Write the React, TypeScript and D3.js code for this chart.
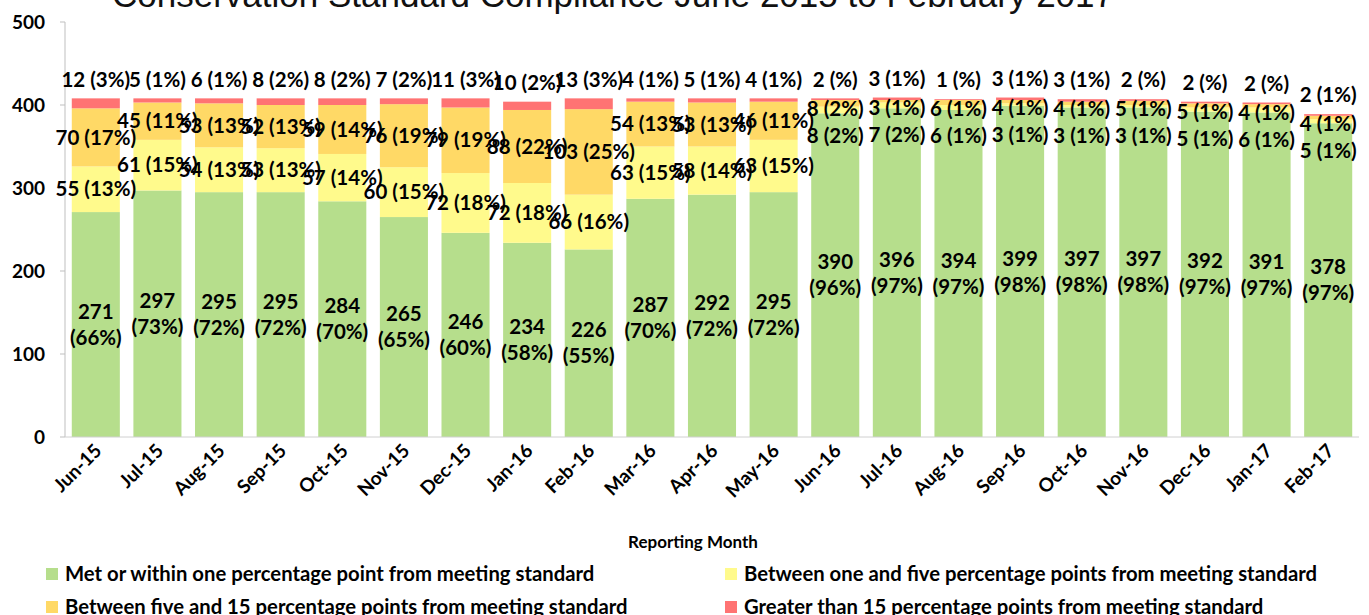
import * as d3 from "d3";

const months = [
  "Jun-15", "Jul-15", "Aug-15", "Sep-15", "Oct-15", "Nov-15", "Dec-15",
  "Jan-16", "Feb-16", "Mar-16", "Apr-16", "May-16", "Jun-16", "Jul-16",
  "Aug-16", "Sep-16", "Oct-16", "Nov-16", "Dec-16", "Jan-17", "Feb-17",
];

// suppliers per compliance group, by reporting month
const metStandard = [271, 297, 295, 295, 284, 265, 246, 234, 226, 287, 292, 295, 390, 396, 394, 399, 397, 397, 392, 391, 378];
const oneToFive = [55, 61, 54, 53, 57, 60, 72, 72, 66, 63, 58, 63, 8, 7, 6, 3, 3, 3, 5, 6, 5];
const fiveToFifteen = [70, 45, 53, 52, 59, 76, 79, 88, 103, 54, 53, 46, 8, 3, 6, 4, 4, 5, 5, 4, 4];
const overFifteen = [12, 5, 6, 8, 8, 7, 11, 10, 13, 4, 5, 4, 2, 3, 1, 3, 3, 2, 2, 2, 2];

const yTicks = [0, 100, 200, 300, 400, 500];

const seriesNames = [
  "Met or within one percentage point from meeting standard",
  "Between one and five percentage points from meeting standard",
  "Between five and 15 percentage points from meeting standard",
  "Greater than 15 percentage points from meeting standard",
];
const colors = ["#b6de8c", "#fffa8c", "#ffd966", "#ff7373"];

const W = 1369;
const H = 615;
const FONT = "Lato, 'Open Sans', sans-serif";

export default function App() {
  const x = d3
    .scaleBand<string>()
    .domain(months)
    .range([65, 1359])
    .paddingInner(0.22)
    .paddingOuter(0.11);
  const y = d3.scaleLinear().domain([0, 500]).range([437, 22]);

  const rows = months.map((m, i) => ({
    month: m,
    s0: metStandard[i],
    s1: oneToFive[i],
    s2: fiveToFifteen[i],
    s3: overFifteen[i],
  }));
  const stack = d3.stack<any>().keys(["s0", "s1", "s2", "s3"]);
  const layers = stack(rows);

  const pctText = (v: number, total: number) => {
    const p = Math.round((v / total) * 100);
    return `${v} (${p === 0 ? "" : p}%)`;
  };

  // label layout: green two-line in the middle, red above bar, others pushed down if crowded
  const labels: { x: number; y: number; text: string }[] = [];
  const greenLabels: { x: number; y: number; a: string; b: string }[] = [];
  rows.forEach((r, i) => {
    const total = r.s0 + r.s1 + r.s2 + r.s3;
    const cx = x(r.month)! + x.bandwidth() / 2;
    const top = y(total);
    const redY = top - 19;
    const orangeMid = y(r.s0 + r.s1 + r.s2 / 2);
    const orangeY = Math.max(orangeMid, redY + 29);
    const yellowMid = y(r.s0 + r.s1 / 2);
    const yellowY = Math.max(yellowMid, orangeY + 27);
    labels.push({ x: cx, y: redY, text: pctText(r.s3, total) });
    labels.push({ x: cx, y: orangeY, text: pctText(r.s2, total) });
    labels.push({ x: cx, y: yellowY, text: pctText(r.s1, total) });
    greenLabels.push({
      x: cx,
      y: y(r.s0 / 2),
      a: `${r.s0}`,
      b: `(${Math.round((r.s0 / total) * 100)}%)`,
    });
  });

  const legendPos = [
    [46, 568],
    [725, 568],
    [46, 601],
    [725, 601],
  ];

  return (
    <svg
      width={W}
      height={H}
      style={{ position: "absolute", left: 0, top: 0, background: "#fff" }}
      fontFamily={FONT}
    >
      <text
        x={112}
        y={7}
        fontFamily="'Liberation Sans', Arial, sans-serif"
        fontSize={35}
        fill="#111"
      >
        Conservation Standard Compliance June 2015 to February 2017
      </text>

      {/* bars */}
      {layers.map((layer, li) => (
        <g key={li} fill={colors[li]}>
          {layer.map((d, i) => (
            <rect
              key={i}
              x={x(months[i])}
              y={y(d[1])}
              width={x.bandwidth()}
              height={y(d[0]) - y(d[1])}
            />
          ))}
        </g>
      ))}

      {/* axes */}
      <line x1={65} x2={65} y1={y(500)} y2={y(0)} stroke="#bfbfbf" />
      <line x1={65} x2={1359} y1={y(0)} y2={y(0)} stroke="#d0d0d0" />
      {yTicks.map((t) => (
        <g key={t}>
          <line x1={60} x2={65} y1={y(t)} y2={y(t)} stroke="#bfbfbf" />
          <text
            x={45}
            y={y(t)}
            dy="0.35em"
            textAnchor="end"
            fontSize={19}
            fontWeight="bold"
          >
            {t}
          </text>
        </g>
      ))}
      {months.map((m) => (
        <text
          key={m}
          transform={`translate(${x(m)! + x.bandwidth() / 2 + 7},${y(0) + 15}) rotate(-45)`}
          textAnchor="end"
          fontSize={19}
          fontWeight="bold"
        >
          {m}
        </text>
      ))}
      <text x={693} y={548} textAnchor="middle" fontSize={17} fontWeight="bold">
        Reporting Month
      </text>

      {/* data labels */}
      {greenLabels.map((g, i) => (
        <text key={i} x={g.x} textAnchor="middle" fontSize={20.5} fontWeight="bold">
          <tspan x={g.x} y={g.y - 13} dy="0.35em">{g.a}</tspan>
          <tspan x={g.x} y={g.y + 13} dy="0.35em">{g.b}</tspan>
        </text>
      ))}
      {labels.map((l, i) => (
        <text
          key={i}
          x={l.x}
          y={l.y}
          dy="0.35em"
          textAnchor="middle"
          fontSize={20.5}
          fontWeight="bold"
        >
          {l.text}
        </text>
      ))}

      {/* legend */}
      {seriesNames.map((s, i) => (
        <g key={s} transform={`translate(${legendPos[i][0]},${legendPos[i][1]})`}>
          <rect width={12} height={12} fill={colors[i]} />
          <text x={19} y={6} dy="0.36em" fontSize={20.3} fontWeight="bold">
            {s}
          </text>
        </g>
      ))}
    </svg>
  );
}
